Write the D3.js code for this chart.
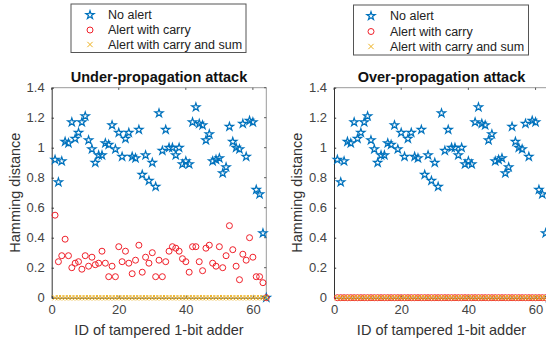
<!DOCTYPE html>
<html><head><meta charset="utf-8">
<script src="https://cdn.jsdelivr.net/npm/d3@7"></script>
<style>
html,body{margin:0;padding:0;background:#fff;}
svg text{font-family:"Liberation Sans",Arial,Helvetica,sans-serif;}
</style></head>
<body>
<svg id="chart" width="546" height="343"></svg>
<script>
// ---- data ----
const adderIds = d3.range(1, 65);
const noAlert = [0.92,0.77,0.91,1.04,1.03,1.17,1.06,1.10,1.17,1.21,1.05,0.99,0.90,0.95,0.95,1.03,1.02,1.15,0.99,1.10,
  0.94,1.06,1.10,0.94,0.93,1.12,0.82,0.95,0.78,0.90,0.74,1.23,0.98,1.12,1.00,1.00,0.95,1.00,0.89,0.91,
  0.89,1.17,1.27,1.16,1.15,1.05,1.09,0.91,0.92,0.93,0.83,0.87,1.14,1.04,1.00,0.99,1.16,0.94,1.18,1.17,
  0.72,0.69,0.43,0.00];
const carryUnder = [0.55,0.24,0.28,0.39,0.28,0.20,0.23,0.24,0.19,0.28,0.21,0.27,0.22,0.23,0.31,0.23,0.14,0.21,0.14,0.34,
  0.24,0.31,0.23,0.16,0.25,0.35,0.17,0.27,0.23,0.30,0.14,0.25,0.14,0.24,0.31,0.34,0.33,0.31,0.26,0.24,
  0.17,0.34,0.34,0.24,0.18,0.33,0.35,0.23,0.21,0.34,0.20,0.28,0.48,0.32,0.21,0.12,0.29,0.25,0.40,0.27,
  0.14,0.14,0.10,0.00];
const carryOver = adderIds.map(() => 0);
const carrySum = adderIds.map(() => 0);
const xTicks = [0, 20, 40, 60];
const yTicks = [0, 0.2, 0.4, 0.6, 0.8, 1, 1.2, 1.4];
const titles = ["Under-propagation attack", "Over-propagation attack"];
const legendLabels = ["No alert", "Alert with carry", "Alert with carry and sum"];
const xLabel = "ID of tampered 1-bit adder";
const yLabel = "Hamming distance";

const blue = "#0072BD", red = "#F0202A", orange = "#EDB120";
const svg = d3.select("#chart");

const panels = [
  {left: 51.7, right: 266.3, carry: carryUnder, legend: {x: 71, y: 4, w: 175, h: 48.5, rows: [15, 30, 44.5], mx: 90, tx: 108}},
  {left: 334, right: 549, carry: carryOver, legend: {x: 353.5, y: 5, w: 175, h: 50, rows: [16, 31.5, 46.5], mx: 371, tx: 390}}
];
const yTop = 87.7, yBottom = 297.7;

const star = d3.symbol().type(d3.symbolStar).size(21);
const cross = d3.symbol().type(d3.symbolX).size(20);

panels.forEach((p, i) => {
  const x = d3.scaleLinear().domain([0, 64]).range([p.left, p.right]);
  const y = d3.scaleLinear().domain([0, 1.4]).range([yBottom, yTop]);
  const g = svg.append("g");

  // box
  g.append("line").attr("x1", p.left).attr("x2", p.right).attr("y1", yTop).attr("y2", yTop).attr("stroke", "#9a9a9a");
  g.append("line").attr("x1", p.right).attr("x2", p.right).attr("y1", yTop).attr("y2", yBottom).attr("stroke", "#9a9a9a");

  // top / right inner ticks
  xTicks.forEach(t => {
    g.append("line").attr("x1", x(t)).attr("x2", x(t)).attr("y1", yTop).attr("y2", yTop + 2.2).attr("stroke", "#555");
  });
  yTicks.forEach(t => {
    g.append("line").attr("x1", p.right).attr("x2", p.right - 2.2).attr("y1", y(t)).attr("y2", y(t)).attr("stroke", "#555");
  });

  const xa = g.append("g").attr("transform", `translate(0,${yBottom})`)
    .call(d3.axisBottom(x).tickValues(xTicks).tickSizeInner(-2.2).tickSizeOuter(0).tickPadding(7).tickFormat(d3.format("d")));
  const ya = g.append("g").attr("transform", `translate(${p.left},0)`)
    .call(d3.axisLeft(y).tickValues(yTicks).tickSizeInner(-2.2).tickSizeOuter(0).tickPadding(7).tickFormat(d => String(+d.toFixed(1))));
  [xa, ya].forEach(a => {
    a.select(".domain").attr("stroke", "#333").attr("stroke-width", 1);
    a.selectAll(".tick line").attr("stroke", "#333");
    a.selectAll(".tick text").attr("fill", "#444").attr("font-size", 13).attr("font-family", '"Liberation Sans",Arial,sans-serif');
  });

  // data marks
  g.append("g").selectAll("path").data(adderIds).join("path")
    .attr("d", star).attr("transform", (d, k) => `translate(${x(d)},${y(noAlert[k])})`)
    .attr("fill", "none").attr("stroke", blue).attr("stroke-width", 1.2);
  g.append("g").selectAll("circle").data(adderIds).join("circle")
    .attr("cx", d => x(d)).attr("cy", (d, k) => y(p.carry[k])).attr("r", 3)
    .attr("fill", "none").attr("stroke", red).attr("stroke-width", 1);
  g.append("g").selectAll("path").data(adderIds).join("path")
    .attr("d", cross).attr("transform", (d, k) => `translate(${x(d)},${y(carrySum[k])})`)
    .attr("fill", "none").attr("stroke", orange).attr("stroke-width", 1);

  // title
  g.append("text").attr("x", (p.left + p.right) / 2).attr("y", 81.5).attr("text-anchor", "middle")
    .attr("font-weight", "bold").attr("font-size", 14.5).attr("fill", "#111").text(titles[i]);
  // labels
  g.append("text").attr("x", (p.left + p.right) / 2).attr("y", 335).attr("text-anchor", "middle")
    .attr("font-size", 14.5).attr("fill", "#333").text(xLabel);
  g.append("text").attr("transform", `translate(${p.left - 32},${(yTop + yBottom) / 2}) rotate(-90)`)
    .attr("text-anchor", "middle").attr("font-size", 14.5).attr("fill", "#333").text(yLabel);

  // legend
  const L = p.legend;
  const lg = g.append("g");
  lg.append("rect").attr("x", L.x).attr("y", L.y).attr("width", L.w).attr("height", L.h)
    .attr("fill", "#fff").attr("stroke", "#555").attr("stroke-width", 1);
  lg.append("path").attr("d", star).attr("transform", `translate(${L.mx},${L.rows[0]})`)
    .attr("fill", "none").attr("stroke", blue).attr("stroke-width", 1.2);
  lg.append("circle").attr("cx", L.mx).attr("cy", L.rows[1]).attr("r", 3).attr("fill", "none").attr("stroke", red);
  lg.append("path").attr("d", cross).attr("transform", `translate(${L.mx},${L.rows[2]})`)
    .attr("fill", "none").attr("stroke", orange);
  legendLabels.forEach((t, k) => {
    lg.append("text").attr("x", L.tx).attr("y", L.rows[k]).attr("dy", "0.35em")
      .attr("font-size", 12.5).attr("fill", "#222").text(t);
  });
});
</script>
</body></html>
